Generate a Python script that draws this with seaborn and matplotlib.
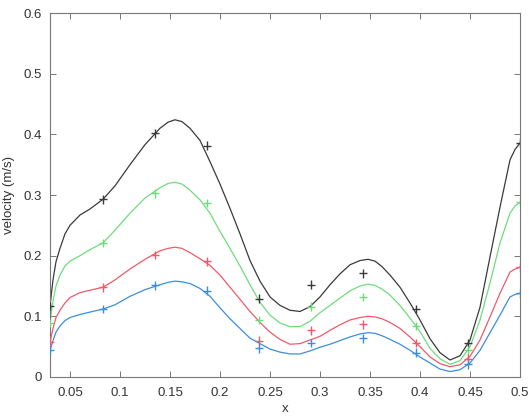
import numpy as np
import pandas as pd
import matplotlib
matplotlib.use("Agg")
import matplotlib.pyplot as plt
import seaborn as sns

# ---- data ----
series_names = ["s1", "s2", "s3", "s4"]
series_colors = ["#3a3a3a", "#6fdc7c", "#f05a6a", "#3b8ede"]

x_pts = [0.030, 0.083, 0.135, 0.187, 0.239, 0.291, 0.343, 0.396, 0.448, 0.500]
black_pts = [0.117, 0.293, 0.402, 0.381, 0.129, 0.152, 0.171, 0.112, 0.056, 0.386]
green_pts = [0.089, 0.221, 0.303, 0.287, 0.094, 0.116, 0.132, 0.084, 0.044, 0.289]
red_pts = [0.058, 0.148, 0.201, 0.191, 0.060, 0.077, 0.087, 0.056, 0.030, 0.181]
blue_pts = [0.044, 0.112, 0.151, 0.142, 0.047, 0.056, 0.064, 0.040, 0.021, 0.138]

x_curve = [0.030, 0.033, 0.036, 0.040, 0.045, 0.050, 0.060, 0.070, 0.083, 0.095,
           0.110, 0.125, 0.140, 0.148, 0.155, 0.162, 0.170, 0.180, 0.190, 0.200,
           0.210, 0.220, 0.230, 0.240, 0.250, 0.260, 0.270, 0.280, 0.290, 0.300,
           0.310, 0.320, 0.330, 0.340, 0.348, 0.355, 0.362, 0.370, 0.380, 0.390,
           0.400, 0.410, 0.420, 0.430, 0.440, 0.450, 0.460, 0.470, 0.480, 0.490,
           0.495, 0.500]
black_curve = [0.117, 0.160, 0.190, 0.212, 0.236, 0.250, 0.267, 0.277, 0.293, 0.315,
               0.350, 0.383, 0.410, 0.420, 0.424, 0.421, 0.410, 0.390, 0.355, 0.318,
               0.278, 0.236, 0.192, 0.158, 0.132, 0.118, 0.110, 0.108, 0.116, 0.132,
               0.152, 0.170, 0.185, 0.192, 0.194, 0.191, 0.182, 0.168, 0.148, 0.122,
               0.094, 0.063, 0.040, 0.028, 0.035, 0.061, 0.115, 0.198, 0.280, 0.358,
               0.375, 0.386]
green_curve = [0.089, 0.125, 0.150, 0.168, 0.183, 0.191, 0.200, 0.210, 0.221, 0.242,
               0.270, 0.295, 0.312, 0.319, 0.321, 0.318, 0.308, 0.292, 0.270, 0.240,
               0.212, 0.183, 0.152, 0.123, 0.102, 0.089, 0.083, 0.083, 0.092, 0.106,
               0.118, 0.130, 0.142, 0.150, 0.153, 0.151, 0.145, 0.135, 0.118, 0.097,
               0.075, 0.047, 0.030, 0.021, 0.027, 0.050, 0.094, 0.155, 0.221, 0.270,
               0.282, 0.288]
red_curve = [0.058, 0.080, 0.098, 0.110, 0.122, 0.131, 0.139, 0.143, 0.148, 0.160,
             0.178, 0.194, 0.208, 0.212, 0.214, 0.212, 0.205, 0.195, 0.184, 0.168,
             0.148, 0.128, 0.108, 0.090, 0.074, 0.062, 0.054, 0.055, 0.061, 0.067,
             0.077, 0.086, 0.094, 0.098, 0.100, 0.099, 0.096, 0.090, 0.080, 0.066,
             0.050, 0.033, 0.022, 0.017, 0.020, 0.034, 0.061, 0.099, 0.138, 0.173,
             0.178, 0.181]
blue_curve = [0.044, 0.060, 0.074, 0.084, 0.093, 0.098, 0.103, 0.107, 0.112, 0.119,
              0.133, 0.144, 0.152, 0.156, 0.158, 0.157, 0.154, 0.146, 0.133, 0.114,
              0.096, 0.080, 0.064, 0.055, 0.046, 0.041, 0.038, 0.038, 0.043, 0.049,
              0.054, 0.060, 0.066, 0.071, 0.073, 0.072, 0.068, 0.062, 0.054, 0.044,
              0.033, 0.023, 0.013, 0.009, 0.012, 0.023, 0.044, 0.073, 0.102, 0.132,
              0.136, 0.138]

x_ticks = [0.05, 0.1, 0.15, 0.2, 0.25, 0.3, 0.35, 0.4, 0.45, 0.5]
x_tick_labels = ["0.05", "0.1", "0.15", "0.2", "0.25", "0.3", "0.35", "0.4", "0.45", "0.5"]
y_ticks = [0, 0.1, 0.2, 0.3, 0.4, 0.5, 0.6]
y_tick_labels = ["0", "0.1", "0.2", "0.3", "0.4", "0.5", "0.6"]

curves = [black_curve, green_curve, red_curve, blue_curve]
points = [black_pts, green_pts, red_pts, blue_pts]

curve_df = pd.concat([pd.DataFrame({"x": x_curve, "v": c, "s": n})
                      for c, n in zip(curves, series_names)], ignore_index=True)
pts_df = pd.concat([pd.DataFrame({"x": x_pts, "v": p, "s": n})
                    for p, n in zip(points, series_names)], ignore_index=True)

sns.set_style("white")
plt.rcParams["font.family"] = ["Liberation Sans", "DejaVu Sans"]

fig = plt.figure(figsize=(5.29, 4.2), dpi=100)
ax = fig.add_axes([0.0945, 0.1024, 0.8885, 0.8666])

palette = dict(zip(series_names, series_colors))
sns.lineplot(data=curve_df, x="x", y="v", hue="s", palette=palette,
             hue_order=series_names, estimator=None, sort=False,
             linewidth=0.9, legend=False, ax=ax)
sns.scatterplot(data=pts_df, x="x", y="v", hue="s", palette=palette,
                hue_order=series_names, marker="+", s=40, linewidth=1.0,
                legend=False, ax=ax, zorder=3)

ax.set_xlim(0.03, 0.5)
ax.set_ylim(0, 0.6)
ax.set_xticks(x_ticks)
ax.set_xticklabels(x_tick_labels)
ax.set_yticks(y_ticks)
ax.set_yticklabels(y_tick_labels)
ax.tick_params(direction="in", length=4, width=0.7, colors="#777777",
               labelcolor="#333333", labelsize=9.5, top=True, right=True,
               bottom=True, left=True)
ax.tick_params(axis="x", pad=7)
ax.tick_params(axis="y", pad=6)
for sp in ax.spines.values():
    sp.set_visible(True)
    sp.set_color("#777777")
    sp.set_linewidth(0.8)

ax.set_xlabel("x", fontsize=9.5, color="#333333", labelpad=3)
ax.set_ylabel("velocity (m/s)", fontsize=9.5, color="#333333", labelpad=6)

fig.savefig("out.png", dpi=100)
